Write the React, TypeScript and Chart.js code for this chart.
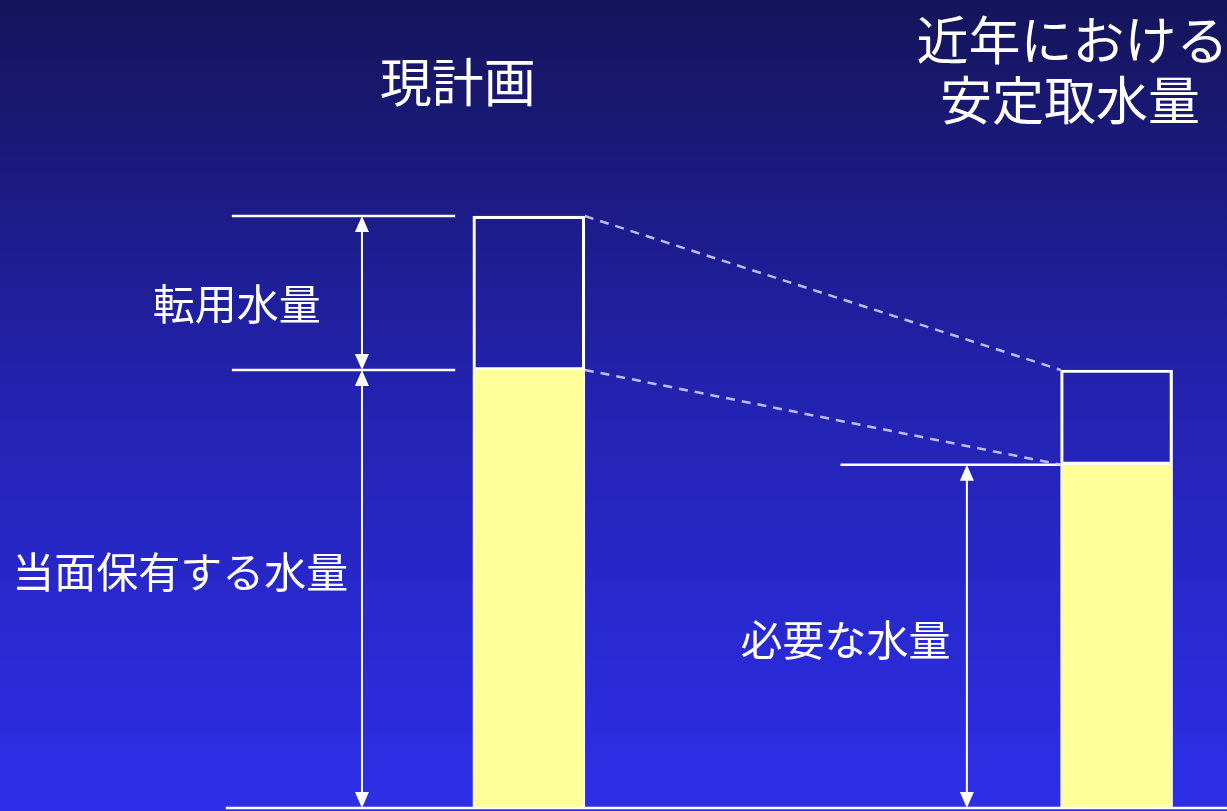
import React, { useEffect, useRef } from "react";
import { Chart, registerables } from "chart.js";

Chart.register(...registerables);

// ---- data ----
const categories = ["現計画", "近年における安定取水量"];
const baseValues = [74, 58]; // 当面保有する水量 / 必要な水量
const upperValues = [26, 16]; // 転用水量 / 残り
const titleLabels = [["現計画"], ["近年における", "安定取水量"]];
const sideLabels = ["転用水量", "当面保有する水量", "必要な水量"];

// x positions on a 0-100 linear axis
const barX = [43.1, 91.0];

const FONT = '"Noto Sans CJK JP", "Noto Sans", sans-serif';

export default function App() {
  const ref = useRef<HTMLCanvasElement | null>(null);

  useEffect(() => {
    document.body.style.margin = "0";
    const canvas = ref.current!;

    const bgPlugin = {
      id: "bg",
      beforeDraw(chart: any) {
        const { ctx, width, height } = chart;
        const g = ctx.createLinearGradient(0, 0, 0, height);
        g.addColorStop(0, "#15145a");
        g.addColorStop(0.5, "#2323b2");
        g.addColorStop(1, "#2e2eea");
        ctx.save();
        ctx.fillStyle = g;
        ctx.fillRect(0, 0, width, height);
        ctx.restore();
      },
    };

    const annoPlugin = {
      id: "anno",
      afterDatasetsDraw(chart: any) {
        const { ctx } = chart;
        const xs = chart.scales.x;
        const ys = chart.scales.y;
        const X = (v: number) => xs.getPixelForValue(v);
        const Y = (v: number) => ys.getPixelForValue(v);
        const total0 = baseValues[0] + upperValues[0];
        const total1 = baseValues[1] + upperValues[1];
        const meta = chart.getDatasetMeta(0);
        const b0 = meta.data[0];
        const b1 = meta.data[1];
        const b0r = b0.x + b0.width / 2;
        const b1l = b1.x - b1.width / 2;

        ctx.save();
        ctx.strokeStyle = "#ffffff";
        ctx.fillStyle = "#ffffff";
        ctx.lineWidth = 2.5;

        const hline = (y: number, x1: number, x2: number) => {
          ctx.beginPath();
          ctx.moveTo(x1, y);
          ctx.lineTo(x2, y);
          ctx.stroke();
        };
        hline(Y(total0), X(18.9), X(37.1));
        hline(Y(baseValues[0]), X(18.9), X(37.1));
        hline(Y(baseValues[1]), X(68.5), b1l);
        hline(Y(0), X(18.4), X(100));

        const head = (x: number, tipY: number, dir: number) => {
          ctx.beginPath();
          ctx.moveTo(x, tipY);
          ctx.lineTo(x - 7, tipY + dir * 16);
          ctx.lineTo(x + 7, tipY + dir * 16);
          ctx.closePath();
          ctx.fill();
        };
        const arrow = (x: number, v1: number, v2: number) => {
          const yTop = Y(v2);
          const yBot = Y(v1);
          ctx.lineWidth = 2;
          ctx.beginPath();
          ctx.moveTo(x, yTop + 4);
          ctx.lineTo(x, yBot - 4);
          ctx.stroke();
          head(x, yTop, 1);
          head(x, yBot, -1);
        };
        arrow(X(29.5), baseValues[0], total0);
        arrow(X(29.5), 0, baseValues[0]);
        arrow(X(78.8), 0, baseValues[1]);

        // dashed connectors
        ctx.strokeStyle = "rgba(215,215,255,0.85)";
        ctx.lineWidth = 2.5;
        ctx.setLineDash([9, 7]);
        ctx.beginPath();
        ctx.moveTo(b0r, Y(total0));
        ctx.lineTo(b1l, Y(total1));
        ctx.moveTo(b0r, Y(baseValues[0]));
        ctx.lineTo(b1l, Y(baseValues[1]));
        ctx.stroke();
        ctx.setLineDash([]);

        // text
        ctx.fillStyle = "#ffffff";
        ctx.textAlign = "center";
        ctx.textBaseline = "middle";
        ctx.font = `42px ${FONT}`;
        ctx.fillText(sideLabels[0], X(19.3), Y(85.1));
        ctx.fillText(sideLabels[1], X(14.7), Y(39.9));
        ctx.fillText(sideLabels[2], X(68.9), Y(28.4));
        ctx.font = `52px ${FONT}`;
        ctx.fillText(titleLabels[0][0], X(37.3), Y(122.6));
        ctx.fillText(titleLabels[1][0], X(87.4), Y(129.7));
        ctx.fillText(titleLabels[1][1], X(87.2), Y(119.6));
        ctx.restore();
      },
    };

    const chart = new Chart(canvas, {
      type: "bar",
      data: {
        labels: categories,
        datasets: [
          {
            label: "当面保有する水量",
            data: baseValues.map((v, i) => ({ x: barX[i], y: v })),
            backgroundColor: "#ffff99",
            borderColor: "#ffffff",
            borderWidth: { left: 2, right: 2, top: 0, bottom: 0 },
            borderSkipped: false,
            barThickness: 112,
            stack: "s",
          },
          {
            label: "転用水量",
            data: upperValues.map((v, i) => ({ x: barX[i], y: v })),
            backgroundColor: "rgba(0,0,0,0)",
            borderColor: "#ffffff",
            borderWidth: 2.5,
            borderSkipped: false,
            barThickness: 112,
            stack: "s",
          },
        ] as any,
      },
      options: {
        animation: false,
        responsive: false,
        layout: { padding: { left: 0, right: 0, top: 0, bottom: 3 } },
        plugins: { legend: { display: false }, tooltip: { enabled: false } },
        scales: {
          x: { type: "linear", min: 0, max: 100, offset: false, display: false },
          y: { stacked: true, min: 0, max: 136.5, display: false },
        },
      } as any,
      plugins: [bgPlugin, annoPlugin],
    });
    return () => chart.destroy();
  }, []);

  return (
    <div style={{ width: 1227, height: 811 }}>
      <canvas ref={ref} width={1227} height={811} />
    </div>
  );
}
